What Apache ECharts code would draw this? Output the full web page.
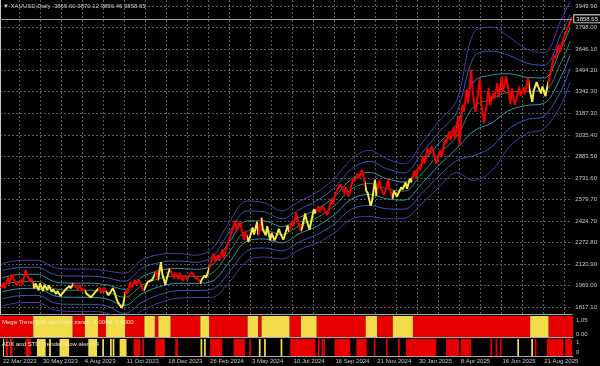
<!DOCTYPE html>
<html><head><meta charset="utf-8">
<style>html,body{margin:0;padding:0;background:#000;}#c{width:600px;height:366px;}</style>
<script src="https://cdn.jsdelivr.net/npm/echarts@6/dist/echarts.min.js"></script>
</head><body><div id="c"></div>
<script>
// ---- data ----
const headerText = '\u25BC XAUUSD,Daily  3865.60 3870.12 3856.46 3858.65';
const lastClose = 3858.65;
const megaTitle = 'Mega Trend with alert new zanco  1.0000  1.0000';
const adxTitle = 'ADX and STD Trendwindow alert V4';

// weekly (5-bar) groups of daily bars: low / high
const priceLow = [1950,1950,1985,1970,1975,1975,2000,1950,1935,1930,
 1935,1925,1910,1895,1900,1925,1950,1940,1930,1910,
 1885,1890,1915,1915,1900,1910,1860,1810,1830,1910,
 1955,1975,1930,1935,1985,2005,2005,1975,2015,2020,
 2015,2000,2010,2030,2015,1985,2010,2025,2080,2145,
 2145,2165,2225,2325,2355,2290,2280,2310,2330,2325,
 2325,2290,2290,2310,2295,2320,2350,2390,2355,2380,
 2365,2410,2480,2490,2470,2490,2545,2620,2620,2600,
 2640,2710,2730,2640,2535,2565,2605,2615,2630,2585,
 2600,2600,2650,2655,2700,2730,2790,2830,2900,2835,
 2860,2880,2980,3000,3010,2960,3200,3260,3200,3270,
 3120,3200,3245,3295,3300,3340,3255,3250,3280,3310,
 3325,3270,3350,3330,3310,3360,3440,3580,3625,3715,
 3780];
const priceHigh = [1990,2030,2048,2010,2010,2080,2050,2020,1985,1985,
 1975,1970,1940,1930,1935,1965,1985,1985,1975,1945,
 1915,1925,1955,1955,1930,1950,1925,1860,1935,1995,
 2010,2005,1990,1995,2010,2075,2135,2050,2088,2080,
 2060,2060,2040,2065,2050,2030,2040,2085,2195,2185,
 2225,2235,2330,2430,2420,2390,2350,2380,2420,2450,
 2365,2390,2340,2370,2340,2395,2425,2485,2435,2480,
 2435,2510,2530,2530,2530,2580,2625,2685,2670,2665,
 2730,2760,2790,2750,2625,2720,2720,2660,2725,2660,
 2640,2665,2700,2725,2785,2815,2885,2940,2955,2955,
 2930,3005,3060,3090,3170,3250,3360,3500,3350,3440,
 3260,3370,3330,3405,3450,3450,3400,3365,3375,3375,
 3440,3365,3410,3380,3380,3450,3600,3675,3705,3790,
 3870];

// band sample groups and band values
const bandGroups = [0,4,8,12,16,20,24,28,32,36,40,44,48,52,56,60,64,68,72,76,80,84,88,92,96,100,104,108,112,116,120,124,128,130];
const bandUp3 = [2125,2147,2149,2096,2086,2086,2073,2056,2151,2189,2197,2184,2227,2420,2568,2555,2499,2565,2629,2725,2867,2927,2868,2830,2974,3135,3279,3765,3800,3730,3645,3620,3855,3985];
const bandUp2 = [2075,2097,2099,2046,2036,2036,2023,1999,2091,2132,2144,2134,2170,2349,2497,2491,2442,2508,2569,2661,2796,2849,2797,2766,2903,3057,3194,3590,3630,3600,3545,3530,3755,3890];
const bandUp1 = [2025,2047,2049,1996,1986,1986,1973,1942,2031,2075,2091,2084,2113,2278,2426,2427,2385,2451,2509,2597,2725,2771,2726,2702,2832,2979,3109,3415,3460,3470,3445,3440,3655,3795];
const bandMid = [1975,1997,1999,1946,1936,1936,1923,1885,1971,2018,2038,2034,2056,2207,2355,2363,2328,2394,2449,2533,2654,2693,2655,2638,2761,2901,3024,3240,3290,3340,3345,3350,3555,3700];
const bandLo1 = [1925,1947,1949,1896,1886,1886,1873,1828,1911,1961,1985,1984,1999,2136,2284,2299,2271,2337,2389,2469,2583,2615,2584,2574,2690,2823,2939,3065,3120,3210,3245,3260,3455,3605];
const bandLo2 = [1875,1897,1899,1846,1836,1836,1823,1771,1851,1904,1932,1934,1942,2065,2213,2235,2214,2280,2329,2405,2512,2537,2513,2510,2619,2745,2854,2890,2950,3080,3145,3170,3355,3510];
const bandLo3 = [1825,1847,1849,1796,1786,1786,1773,1714,1791,1847,1879,1884,1885,1994,2142,2171,2157,2223,2269,2341,2441,2459,2442,2446,2548,2667,2769,2715,2780,2950,3045,3080,3255,3415];

// Mega Trend: yellow runs [firstBar, lastBar]; red elsewhere
const megaYellowRuns = [[38,82],[97,111],[121,142],[165,176],[181,194],[229,238],[283,294],[299,330],[344,361],[418,430],[449,471],[606,626]];
// ADX panel runs
const adxRedRuns = [[3,5],[8,10],[26,29],[30,31],[150,157],[160,161],[175,185],[198,200],[238,251],[265,277],[283,284],[330,358],[362,363],[366,367],[368,369],[381,398],[406,417],[426,427],[440,441],[454,455],[463,497],[509,523],[526,537],[560,561],[566,567],[571,572],[611,612],[625,643],[646,653]];
const adxYellowRuns = [[39,48],[53,54],[65,75],[98,107],[114,115],[123,124],[126,127],[134,141],[227,228],[231,232],[294,295],[300,301],[319,320],[591,592],[607,608]];

// axes
const priceTicks = [3949.90,3798.00,3646.10,3494.20,3342.30,3187.30,3035.40,2883.50,2731.60,2579.70,2424.70,2272.80,2120.90,1969.00,1817.10];
const megaTicks = [1.05, 0.00, -0.05];
const adxTicks = [1, 0];
const dateLabels = ['22 Mar 2023','30 May 2023','4 Aug 2023','11 Oct 2023','18 Dec 2023','26 Feb 2024','3 May 2024','10 Jul 2024','16 Sep 2024','21 Nov 2024','30 Jan 2025','8 Apr 2025','16 Jun 2025','21 Aug 2025'];
const dateBars = [0,46,94,142,190,238,286,334,382,430,478,526,574,622];
const gridBars = [22,46,70,94,118,142,166,190,214,238,262,286,310,334,358,382,406,430,454,478,502,526,550,574,598,622,646];
const BAR_COUNT = 655;
const GROUP = 5;

// ---- styles ----
const RED = '#e80000', YELLOW = '#f2dc4a', CANDLE_Y = '#f5e64a', CANDLE_R = '#f00000';
const TXT = '#c8c8c8', FONT = 'Liberation Sans, Arial, sans-serif';
const C_OUT = '#4a3aa6', C_2 = '#3657bd', C_1 = '#2c98b0', C_MID = '#2f8f5a';

function complement(runs, n) {
  const out = []; let s = 0;
  runs.forEach(r => { if (r[0] > s) out.push([s, r[0] - 1]); s = r[1] + 1; });
  if (s <= n - 1) out.push([s, n - 1]);
  return out;
}

// price trace: each week's low and high, ordered by the week's direction
const mids = priceLow.map((lo, n) => (lo + priceHigh[n]) / 2);
const priceTrace = [];
priceLow.forEach((lo, n) => {
  const up = n === 0 || mids[n] >= mids[n - 1];
  const a = up ? lo : priceHigh[n], b = up ? priceHigh[n] : lo;
  priceTrace.push([n * GROUP + 0.8, a], [n * GROUP + 4.2, b]);
});

function bandSeries(vals, color) {
  return { type: 'line', xAxisIndex: 0, yAxisIndex: 0, data: bandGroups.map((g, i) => [g * GROUP + 2.5, vals[i]]),
    showSymbol: false, smooth: 0.35, silent: true, z: 2, lineStyle: { color, width: 1 } };
}
function runsSeries(runs, color, gi, z) {
  return { type: 'custom', xAxisIndex: gi, yAxisIndex: gi, clip: true, silent: true, z: z || 2,
    data: runs.map(r => [r[0], r[1] + 1]),
    renderItem(params, api) {
      const a = api.coord([api.value(0), 0]), b = api.coord([api.value(1), 0]);
      const cs = params.coordSys;
      return { type: 'rect', shape: { x: a[0], y: cs.y, width: Math.max(1, b[0] - a[0]), height: cs.height }, style: { fill: color } };
    } };
}

const grids = [
  { left: 0, right: 27, top: 0, height: 314 },
  { left: 0, right: 27, top: 316, height: 21 },
  { left: 0, right: 27, top: 339, height: 17 }
];
const axisLineGray = { show: true, onZero: false, lineStyle: { color: '#a8a8a8', width: 1 } };
const xAxes = [0, 1, 2].map(i => ({
  type: 'value', gridIndex: i, min: 0, max: BAR_COUNT, axisLine: axisLineGray,
  axisTick: { show: false, customValues: i === 2 ? dateBars : gridBars },
  splitLine: { show: i === 0, lineStyle: { color: '#5a5a5a', type: [2, 2], width: 1 } },
  axisLabel: i === 2 ? { show: true, customValues: dateBars, formatter: v => dateLabels[dateBars.indexOf(v)] || '',
    align: 'left', color: TXT, fontSize: 6, fontFamily: FONT, margin: 2 } : { show: false }
}));
const yAxes = [
  { type: 'value', gridIndex: 0, position: 'right', min: 1767.3, max: 3992.4,
    axisLine: { show: true, lineStyle: { color: '#c8c8c8' } }, axisTick: { show: false, customValues: priceTicks },
    axisLabel: { customValues: priceTicks, formatter: v => v.toFixed(2), color: TXT, fontSize: 6, fontFamily: FONT, margin: 3 },
    splitLine: { show: true, lineStyle: { color: '#5a5a5a', type: [2, 2], width: 1 } } },
  { type: 'value', gridIndex: 1, position: 'right', min: -0.225, max: 1.35,
    axisLine: { show: true, lineStyle: { color: '#c8c8c8' } }, axisTick: { show: false, customValues: megaTicks },
    axisLabel: { customValues: megaTicks, formatter: v => v.toFixed(2), color: TXT, fontSize: 6, fontFamily: FONT, margin: 3 },
    splitLine: { show: false } },
  { type: 'value', gridIndex: 2, position: 'right', min: -0.33, max: 1.38,
    axisLine: { show: true, lineStyle: { color: '#c8c8c8' } }, axisTick: { show: false, customValues: adxTicks },
    axisLabel: { customValues: adxTicks, formatter: v => String(v), color: TXT, fontSize: 6, fontFamily: FONT, margin: 3 },
    splitLine: { show: false } }
];

const PRICE_IDX = 7;
const series = [
  bandSeries(bandUp3, C_OUT), bandSeries(bandUp2, C_2), bandSeries(bandUp1, C_1), bandSeries(bandMid, C_MID),
  bandSeries(bandLo1, C_1), bandSeries(bandLo2, C_2), bandSeries(bandLo3, C_OUT),
  { type: 'line', xAxisIndex: 0, yAxisIndex: 0, data: priceTrace, showSymbol: false, silent: true, z: 4,
    lineStyle: { width: 2 }, clip: true,
    markLine: { silent: true, symbol: 'none', animation: false,
      lineStyle: { color: '#9c9c9c', width: 1, type: 'solid' },
      label: { show: true, position: 'end', distance: 2, formatter: () => lastClose.toFixed(2), color: '#e8e8e8',
        fontSize: 6, fontFamily: FONT, backgroundColor: '#000', borderColor: '#e0e0e0', borderWidth: 1, padding: [1, 2, 0, 2] },
      data: [{ yAxis: lastClose }] } },
  runsSeries(complement(megaYellowRuns, BAR_COUNT), RED, 1),
  runsSeries(megaYellowRuns, YELLOW, 1),
  runsSeries(adxRedRuns, RED, 2),
  runsSeries(adxYellowRuns, YELLOW, 2)
];

const titleStyle = (c) => ({ color: c, fontSize: 6, fontWeight: 'normal', fontFamily: FONT });
const chart = echarts.init(document.getElementById('c'), null, { renderer: 'canvas' });
chart.setOption({
  backgroundColor: '#000', animation: false,
  visualMap: { show: false, type: 'piecewise', seriesIndex: PRICE_IDX, dimension: 0,
    pieces: megaYellowRuns.map(r => ({ gte: r[0], lt: r[1] + 1, color: CANDLE_Y })),
    outOfRange: { color: CANDLE_R } },
  title: [
    { text: headerText, left: 3, top: 3, padding: 0, textStyle: titleStyle(TXT) },
    { text: megaTitle, left: 2, top: 319, padding: 0, z: 10, textStyle: titleStyle('#f3ecc0') },
    { text: adxTitle, left: 2, top: 341, padding: 0, z: 10, textStyle: titleStyle('#f3ecc0') }
  ],
  grid: grids, xAxis: xAxes, yAxis: yAxes, series
});
</script></body></html>
